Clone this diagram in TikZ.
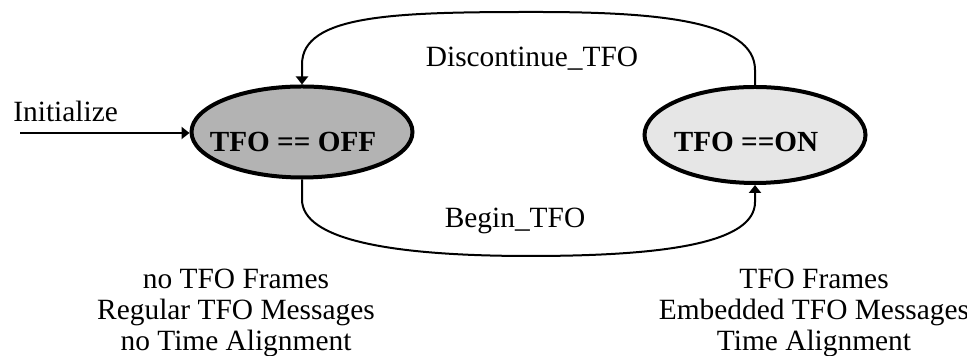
\documentclass[tikz,border=0pt]{standalone}
\usepackage{fontspec}
\setmainfont{Liberation Serif}
\usetikzlibrary{shapes.geometric, arrows.meta, positioning, calc}
\definecolor{offgray}{HTML}{B3B3B3}
\definecolor{ongray}{HTML}{E6E6E6}

\begin{document}
\begin{tikzpicture}[x=0.5pt, y=0.5pt,
    state/.style={ellipse, draw=black, line width=2pt, inner sep=0pt},
    state text/.style={font=\fontsize{14.6}{15.5}\selectfont\bfseries, inner sep=0pt},
    flow/.style={line width=1pt, -{Triangle[length=4pt, width=6pt]}},
    label text/.style={font=\fontsize{14.7}{15.5}\selectfont, inner sep=0pt}]
  \useasboundingbox (0,0) rectangle (967,356);

  % the two states
  \node[state, fill=offgray, minimum width=110.5pt, minimum height=45.5pt] (off) at (302,224) {};
  \node[state, fill=ongray, minimum width=110.5pt, minimum height=48pt] (on) at (755,221) {};
  \node[state text, anchor=base] (offname) at (293,204) {TFO == OFF};
  \node[state text, anchor=base] (onname) at (746,204) {TFO ==ON};

  % entry arrow
  \coordinate (init) at (20,223);
  \draw[flow] (init) -- (init -| off.west);
  \node[label text, anchor=base west] (initlabel) at (13,234) {Initialize};

  % transitions between the states
  \coordinate (topmid) at (535,344);
  \coordinate (botmid) at (530,100);
  \draw[flow] (on.north) -- ++(0,15) .. controls +(0,50) and +(120,0) .. (topmid)
    .. controls +(-140,0) and +(0,50) .. ($(off.north)+(0,20)$) -- (off.north);
  \draw[flow] (off.south) -- ++(0,-20) .. controls +(0,-40) and +(-140,0) .. (botmid)
    .. controls +(140,0) and +(0,-40) .. ($(on.south)+(0,-17)$) -- (on.south);
  \node[label text, anchor=base] (stop) at (532,289) {Discontinue\_TFO};
  \node[label text, anchor=base] (begin) at (515,128) {Begin\_TFO};

  % state descriptions
  \node[label text, align=center, anchor=north] (offtext) at (236,87)
    {no TFO Frames\\Regular TFO Messages\\no Time Alignment};
  \node[label text, align=center, anchor=north] (ontext) at (814,87)
    {TFO Frames\\Embedded TFO Messages\\Time Alignment};
\end{tikzpicture}
\end{document}
